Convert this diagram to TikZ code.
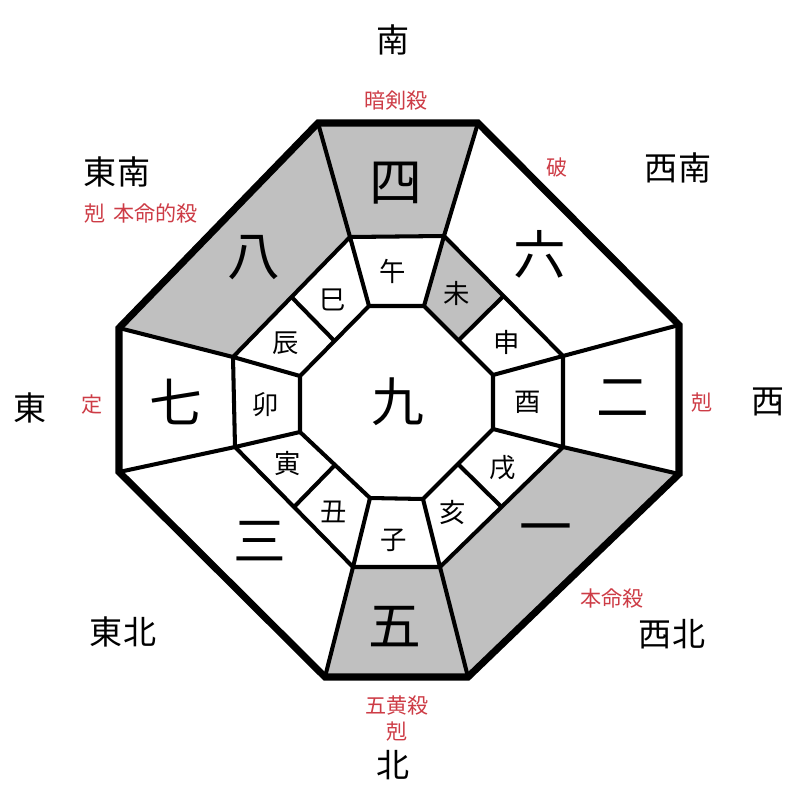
\documentclass[tikz,border=0pt]{standalone}
\usepackage{fontspec}
\usetikzlibrary{calc}
\setmainfont{Noto Sans CJK JP}
\newfontfamily\jp{Noto Sans CJK JP}
\definecolor{lblred}{RGB}{205,60,70}
\definecolor{cellgray}{RGB}{192,192,192}
\tikzset{
  thickline/.style={line width=2pt, line join=miter},
  cellline/.style={line width=1.15pt, line join=miter},
  dirlbl/.style={font=\jp\fontsize{9.4pt}{10pt}\selectfont, text=black, inner sep=0pt},
  redlbl/.style={font=\jp\fontsize{6pt}{7pt}\selectfont, text=lblred, inner sep=0pt},
  numlbl/.style={font=\jp\fontsize{15pt}{16pt}\selectfont, text=black, inner sep=0pt},
  zodlbl/.style={font=\jp\fontsize{7.5pt}{8pt}\selectfont, text=black, inner sep=0pt},
}
\begin{document}
\begin{tikzpicture}[x=0.01cm, y=-0.01cm]
\useasboundingbox (0,0) rectangle (800,800);
% outer octagon
\coordinate (O1) at (318,123);
\coordinate (O2) at (478,123);
\coordinate (O3) at (679,325);
\coordinate (O4) at (679,474);
\coordinate (O5) at (468,677);
\coordinate (O6) at (325,677);
\coordinate (O7) at (119,472);
\coordinate (O8) at (119,328);
% middle octagon
\coordinate (M1) at (350,237);
\coordinate (M2) at (444,236);
\coordinate (M3) at (563,356);
\coordinate (M4) at (563,447);
\coordinate (M5) at (440,567);
\coordinate (M6) at (353,567);
\coordinate (M7) at (235,447);
\coordinate (M8) at (233,357);
% inner octagon
\coordinate (I1) at (369,306);
\coordinate (I2) at (424,306);
\coordinate (I3) at (493,375);
\coordinate (I4) at (493,429);
\coordinate (I5) at (423,499);
\coordinate (I6) at (370,498);
\coordinate (I7) at (300,432);
\coordinate (I8) at (300,376);
% midpoints of diagonal edges
\coordinate (A23) at ($(M2)!0.5!(M3)$);
\coordinate (B23) at ($(I2)!0.5!(I3)$);
\coordinate (A45) at ($(M4)!0.5!(M5)$);
\coordinate (B45) at ($(I4)!0.5!(I5)$);
\coordinate (A67) at ($(M6)!0.5!(M7)$);
\coordinate (B67) at ($(I6)!0.5!(I7)$);
\coordinate (A81) at ($(M8)!0.5!(M1)$);
\coordinate (B81) at ($(I8)!0.5!(I1)$);
% gray cells
\fill[cellgray] (O1) -- (O2) -- (M2) -- (M1) -- cycle;
\fill[cellgray] (O8) -- (O1) -- (M1) -- (M8) -- cycle;
\fill[cellgray] (M6) -- (M5) -- (O5) -- (O6) -- cycle;
\fill[cellgray] (M4) -- (O4) -- (O5) -- (M5) -- cycle;
\fill[cellgray] (M2) -- (A23) -- (B23) -- (I2) -- cycle;
% cell lines
\draw[cellline] (M1) -- (M2) -- (M3) -- (M4) -- (M5) -- (M6) -- (M7) -- (M8) -- cycle;
\draw[cellline] (I1) -- (I2) -- (I3) -- (I4) -- (I5) -- (I6) -- (I7) -- (I8) -- cycle;
\foreach \k in {1,...,8} {
  \draw[cellline] (O\k) -- (M\k);
  \draw[cellline] (M\k) -- (I\k);
}
\draw[cellline] (A23) -- (B23);
\draw[cellline] (A45) -- (B45);
\draw[cellline] (A67) -- (B67);
\draw[cellline] (A81) -- (B81);
% outer border
\draw[thickline] (O1) -- (O2) -- (O3) -- (O4) -- (O5) -- (O6) -- (O7) -- (O8) -- cycle;
% numbers
\node[numlbl] (n4) at (396,183) {四};
\node[numlbl] (n8) at (254,258) {八};
\node[numlbl] (n6) at (540,254) {六};
\node[numlbl] (n7) at (176,402) {七};
\node[numlbl] (n2) at (623,398) {二};
\node[numlbl] (n3) at (260,541) {三};
\node[numlbl] (n1) at (546,535) {一};
\node[numlbl] (n5) at (395,627) {五};
\node[numlbl] (n9) at (398,402) {九};
% zodiac
\node[zodlbl] (zuma) at (393,271) {午};
\node[zodlbl] (zmi) at (333,300) {巳};
\node[zodlbl] (ztatsu) at (286,343) {辰};
\node[zodlbl] (zhitsuji) at (457,293) {未};
\node[zodlbl] (zsaru) at (507,342) {申};
\node[zodlbl] (ztori) at (528,402) {酉};
\node[zodlbl] (zu) at (266,405) {卯};
\node[zodlbl] (ztora) at (288,463) {寅};
\node[zodlbl] (zushi) at (334,512) {丑};
\node[zodlbl] (zne) at (394,540) {子};
\node[zodlbl] (zi) at (453,512) {亥};
\node[zodlbl] (zinu) at (503,468) {戌};
% directions
\node[dirlbl] (dS) at (393,40) {南};
\node[dirlbl] (dSE) at (117,172) {東南};
\node[dirlbl] (dSW) at (678,168) {西南};
\node[dirlbl] (dE) at (30,408) {東};
\node[dirlbl] (dW) at (768,402) {西};
\node[dirlbl] (dNE) at (123,632) {東北};
\node[dirlbl] (dNW) at (672,634) {西北};
\node[dirlbl] (dN) at (393,765) {北};
% red labels
\node[redlbl] (rS) at (396,100) {暗剣殺};
\node[redlbl] (rSW) at (557,167) {破};
\node[redlbl] (rSE) at (141,213) {剋\hspace{0.35em}本命的殺};
\node[redlbl] (rE) at (92,405) {定};
\node[redlbl] (rW) at (702,403) {剋};
\node[redlbl] (rNW) at (612,598) {本命殺};
\node[redlbl] (rN1) at (397,705) {五黄殺};
\node[redlbl] (rN2) at (397,732) {剋};
\end{tikzpicture}
\end{document}
